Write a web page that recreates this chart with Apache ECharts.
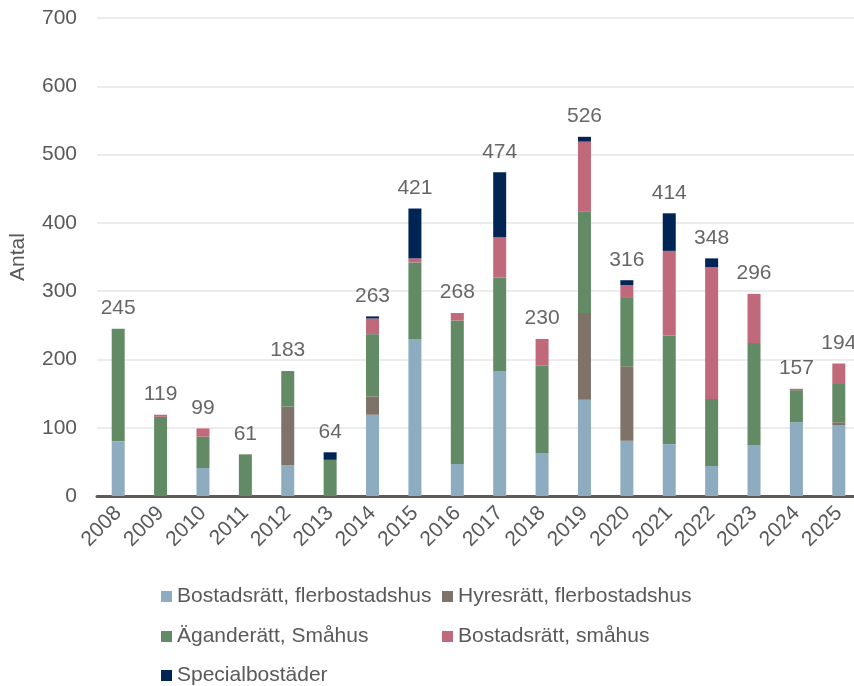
<!DOCTYPE html>
<html>
<head>
<meta charset="utf-8">
<script src="https://cdn.jsdelivr.net/npm/echarts@6/dist/echarts.min.js"></script>
<style>
  html, body { margin: 0; padding: 0; background: #fff; overflow: hidden; }
  /* lite bredare än fönstret: plottytan fortsätter förbi högerkanten som i originalet */
  #chart { width: 860px; height: 686px; }
</style>
</head>
<body>
<div id="chart"></div>
<script>
// år på x-axeln
const years = ['2008', '2009', '2010', '2011', '2012', '2013', '2014', '2015', '2016',
  '2017', '2018', '2019', '2020', '2021', '2022', '2023', '2024', '2025']

// antal per upplåtelseform
const bostadsrattFlerbostadshus = [80, 0, 41, 0, 45, 0, 119, 230, 47, 183, 63, 141, 81, 76, 44, 74, 108, 104]
const hyresrattFlerbostadshus = [0, 0, 0, 0, 86, 0, 27, 0, 0, 0, 0, 127, 109, 0, 0, 0, 0, 4]
const aganderattSmahus = [165, 116, 46, 61, 52, 53, 91, 112, 210, 137, 128, 149, 100, 159, 98, 150, 47, 56]
const bostadsrattSmahus = [0, 3, 12, 0, 0, 0, 23, 6, 11, 59, 39, 102, 19, 124, 193, 72, 2, 30]
const specialbostader = [0, 0, 0, 0, 0, 11, 3, 73, 0, 95, 0, 7, 7, 55, 13, 0, 0, 0]

// summa per år, visas ovanför staplarna
const totals = [245, 119, 99, 61, 183, 64, 263, 421, 268, 474, 230, 526, 316, 414, 348, 296, 157, 194]

const yTicks = [0, 100, 200, 300, 400, 500, 600, 700]

const font = 'Liberation Sans, Arial, sans-serif'
const textGrey = '#595959'

const chart = echarts.init(document.getElementById('chart'))

function stackBar(name, data, color) {
  return {
    name: name,
    type: 'bar',
    stack: 'antal',
    barWidth: 13,
    data: data,
    itemStyle: { color: color },
    animation: false
  }
}

// en legend per kolumn/rad så att kolumnerna linjerar som i originalet
function legendBlock(left, top, items) {
  return {
    orient: 'vertical',
    left: left,
    top: top,
    itemGap: 19,
    itemWidth: 11,
    itemHeight: 11,
    icon: 'rect',
    padding: 0,
    textStyle: { fontSize: 21, color: textGrey, fontFamily: font },
    data: items
  }
}

chart.setOption({
  textStyle: { fontFamily: font },
  grid: {
    left: 95,
    right: 0,
    top: 18,
    bottom: 190
  },
  xAxis: {
    type: 'category',
    data: years,
    axisTick: { show: false },
    axisLine: { lineStyle: { color: '#5f5a56', width: 3 } },
    axisLabel: {
      rotate: 45,
      fontSize: 21,
      color: textGrey,
      margin: 14,
      fontFamily: font
    }
  },
  yAxis: {
    type: 'value',
    min: yTicks[0],
    max: yTicks[yTicks.length - 1],
    interval: 100,
    name: 'Antal',
    nameLocation: 'middle',
    nameRotate: 90,
    nameGap: 68,
    nameTextStyle: { fontSize: 21, color: textGrey, fontFamily: font },
    axisLabel: { fontSize: 21, color: textGrey, margin: 20, fontFamily: font },
    axisLine: { show: false },
    axisTick: { show: false },
    splitLine: { lineStyle: { color: '#e6e6e6', width: 1.5 } }
  },
  legend: [
    legendBlock(161, 586, ['Bostadsrätt, flerbostadshus', 'Äganderätt, Småhus']),
    legendBlock(161, 665, ['Specialbostäder']),
    legendBlock(442, 586, ['Hyresrätt, flerbostadshus', 'Bostadsrätt, småhus'])
  ],
  series: [
    stackBar('Bostadsrätt, flerbostadshus', bostadsrattFlerbostadshus, '#8eacbf'),
    stackBar('Hyresrätt, flerbostadshus', hyresrattFlerbostadshus, '#7f7369'),
    stackBar('Äganderätt, Småhus', aganderattSmahus, '#628b65'),
    stackBar('Bostadsrätt, småhus', bostadsrattSmahus, '#c0697b'),
    stackBar('Specialbostäder', specialbostader, '#002554'),
    {
      // osynlig serie som bara bär totalsiffran
      name: 'Totalt',
      type: 'scatter',
      symbolSize: 0,
      data: totals,
      silent: true,
      animation: false,
      label: {
        show: true,
        position: 'top',
        distance: 10,
        fontSize: 21,
        color: '#404040',
        fontFamily: font
      }
    }
  ]
})
</script>
</body>
</html>
